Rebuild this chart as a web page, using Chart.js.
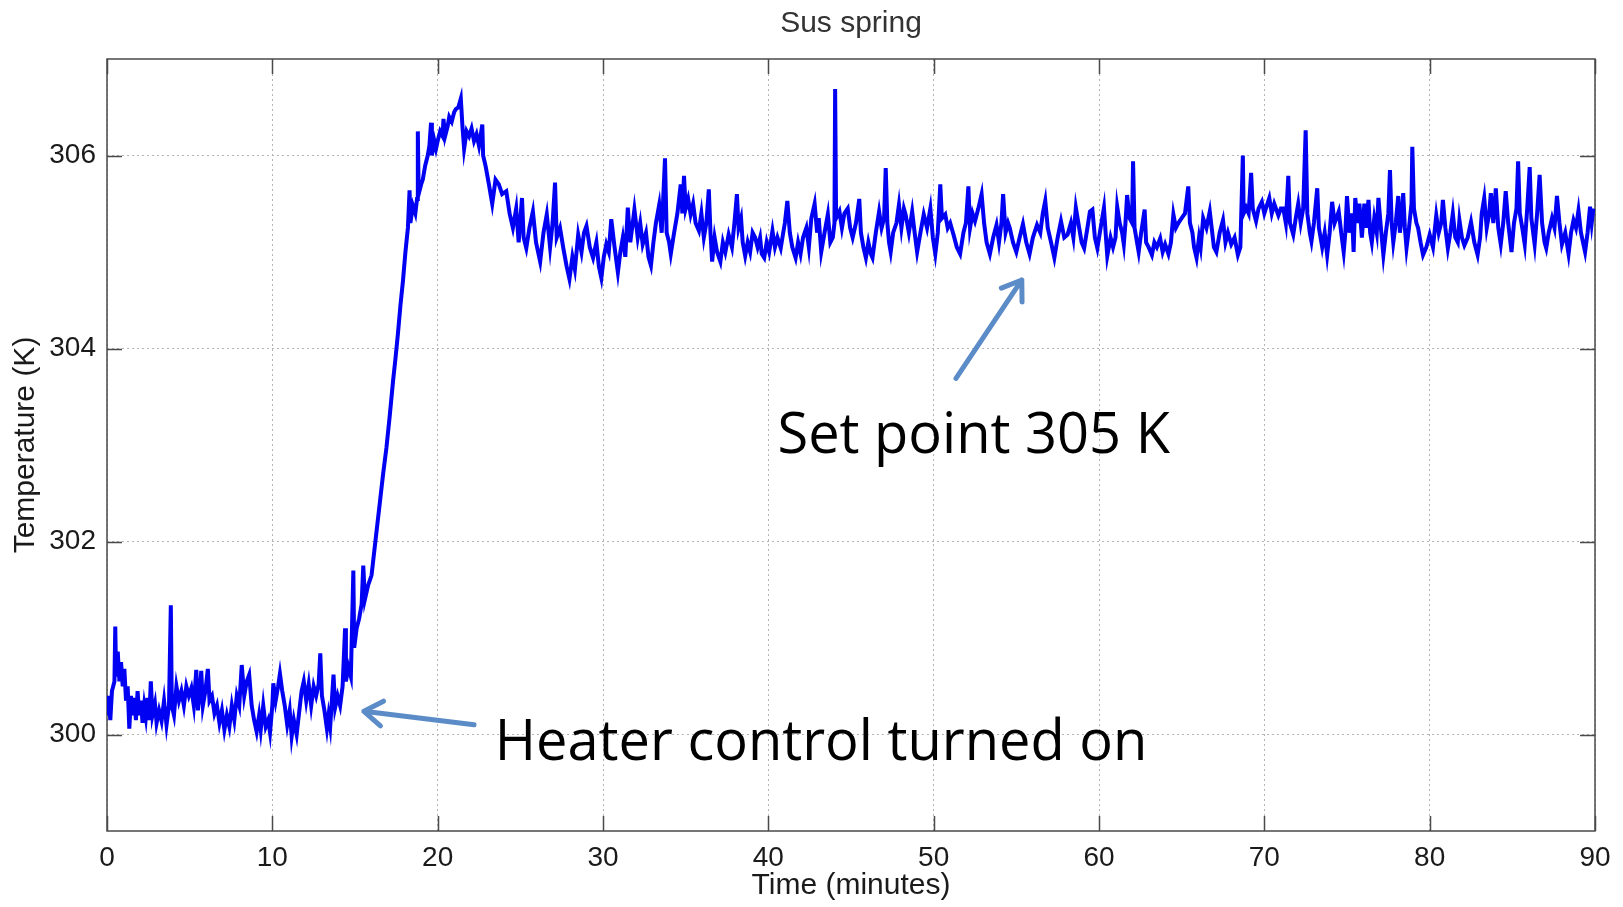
<!DOCTYPE html>
<html>
<head>
<meta charset="utf-8">
<title>Sus spring</title>
<script src="https://cdn.jsdelivr.net/npm/chart.js@4.4.0/dist/chart.umd.min.js"></script>
<style>
  html, body { margin: 0; padding: 0; background: #fff; }
  #wrap { width: 1623px; height: 907px; }
</style>
</head>
<body>
<div id="wrap"><canvas id="springChart" width="1623" height="907"></canvas></div>
<script>
// time axis (minutes) and temperature (K), 10 per row
const minutes = [
  0.0, 0.1, 0.2, 0.3, 0.45, 0.5, 0.55, 0.65, 0.75, 0.85,
  0.95, 1.05, 1.15, 1.25, 1.35, 1.45, 1.55, 1.65, 1.75, 1.85,
  1.95, 2.05, 2.15, 2.25, 2.35, 2.45, 2.55, 2.65, 2.75, 2.9,
  3.0, 3.15, 3.3, 3.45, 3.6, 3.75, 3.86, 3.92, 4.05, 4.2,
  4.35, 4.5, 4.65, 4.8, 4.95, 5.1, 5.25, 5.4, 5.5, 5.6,
  5.7, 5.8, 5.95, 6.1, 6.2, 6.35, 6.5, 6.65, 6.8, 6.95,
  7.1, 7.25, 7.4, 7.55, 7.7, 7.85, 8.0, 8.15, 8.3, 8.45,
  8.6, 8.75, 8.9, 9.05, 9.2, 9.3, 9.45, 9.6, 9.75, 9.86,
  10.0, 10.06, 10.2, 10.35, 10.46, 10.6, 10.75, 10.9, 11.05, 11.17,
  11.3, 11.47, 11.6, 11.77, 11.9, 12.05, 12.2, 12.35, 12.5, 12.65,
  12.8, 12.9, 13.0, 13.15, 13.3, 13.4, 13.5, 13.6, 13.7, 13.8,
  13.95, 14.1, 14.25, 14.4, 14.45, 14.6, 14.75, 14.9, 14.95, 15.1,
  15.25, 15.4, 15.5, 15.6, 15.8, 16.0, 16.1, 16.3, 16.5, 16.7,
  16.9, 17.1, 17.3, 17.45, 17.6, 17.75, 17.9, 18.05, 18.2, 18.3,
  18.35, 18.5, 18.65, 18.75, 18.8, 18.85, 19.0, 19.1, 19.25, 19.4,
  19.5, 19.6, 19.65, 19.8, 19.9, 20.0, 20.15, 20.3, 20.35, 20.45,
  20.6, 20.7, 20.85, 21.0, 21.1, 21.25, 21.4, 21.5, 21.6, 21.75,
  21.9, 22.05, 22.2, 22.35, 22.5, 22.7, 22.75, 22.9, 23.1, 23.3,
  23.5, 23.7, 23.9, 24.15, 24.35, 24.55, 24.75, 24.9, 25.1, 25.2,
  25.36, 25.55, 25.76, 25.95, 26.2, 26.4, 26.6, 26.8, 26.95, 27.1,
  27.2, 27.4, 27.6, 27.8, 27.97, 28.15, 28.3, 28.5, 28.7, 28.85,
  29.0, 29.2, 29.4, 29.6, 29.75, 29.9, 30.05, 30.2, 30.35, 30.5,
  30.7, 30.9, 31.05, 31.2, 31.35, 31.5, 31.65, 31.8, 31.9, 32.1,
  32.25, 32.4, 32.6, 32.75, 32.9, 33.05, 33.2, 33.4, 33.55, 33.75,
  33.85, 34.0, 34.1, 34.3, 34.5, 34.7, 34.8, 34.9, 35.0, 35.15,
  35.3, 35.45, 35.6, 35.8, 35.95, 36.1, 36.25, 36.4, 36.5, 36.6,
  36.75, 36.9, 37.1, 37.25, 37.4, 37.6, 37.8, 37.95, 38.1, 38.2,
  38.35, 38.45, 38.6, 38.75, 38.9, 39.05, 39.2, 39.35, 39.5, 39.6,
  39.75, 39.9, 40.05, 40.25, 40.4, 40.55, 40.75, 40.9, 41.0, 41.15,
  41.3, 41.45, 41.65, 41.8, 41.95, 42.1, 42.3, 42.45, 42.6, 42.8,
  42.95, 43.05, 43.2, 43.4, 43.6, 43.75, 43.9, 44.0, 44.04, 44.1,
  44.3, 44.45, 44.6, 44.8, 44.95, 45.1, 45.3, 45.5, 45.6, 45.75,
  45.9, 46.05, 46.2, 46.3, 46.5, 46.7, 46.85, 47.0, 47.1, 47.2,
  47.3, 47.4, 47.55, 47.75, 47.9, 48.05, 48.2, 48.3, 48.5, 48.7,
  48.85, 49.0, 49.2, 49.4, 49.6, 49.8, 49.95, 50.1, 50.25, 50.4,
  50.5, 50.7, 50.85, 51.0, 51.2, 51.4, 51.6, 51.8, 51.95, 52.1,
  52.2, 52.35, 52.5, 52.7, 52.9, 53.05, 53.2, 53.4, 53.6, 53.8,
  53.95, 54.1, 54.2, 54.35, 54.5, 54.6, 54.8, 55.0, 55.2, 55.4,
  55.6, 55.8, 56.0, 56.25, 56.45, 56.6, 56.75, 56.9, 57.1, 57.3,
  57.5, 57.7, 57.9, 58.1, 58.3, 58.45, 58.6, 58.8, 58.95, 59.1,
  59.3, 59.45, 59.6, 59.75, 59.9, 60.05, 60.3, 60.4, 60.5, 60.7,
  60.85, 61.0, 61.1, 61.25, 61.4, 61.5, 61.6, 61.7, 61.85, 62.0,
  62.06, 62.15, 62.3, 62.4, 62.55, 62.76, 62.85, 63.0, 63.2, 63.35,
  63.5, 63.7, 63.85, 64.0, 64.2, 64.35, 64.5, 64.65, 64.8, 65.0,
  65.2, 65.4, 65.5, 65.65, 65.75, 65.9, 66.05, 66.15, 66.3, 66.5,
  66.7, 66.85, 66.95, 67.1, 67.3, 67.5, 67.65, 67.8, 68.0, 68.2,
  68.4, 68.55, 68.7, 68.75, 68.9, 69.05, 69.2, 69.3, 69.5, 69.65,
  69.85, 70.0, 70.15, 70.3, 70.45, 70.6, 70.85, 71.0, 71.15, 71.3,
  71.45, 71.55, 71.75, 71.9, 72.05, 72.2, 72.35, 72.5, 72.6, 72.75,
  72.85, 73.0, 73.2, 73.3, 73.5, 73.65, 73.8, 73.95, 74.1, 74.25,
  74.5, 74.65, 74.8, 74.9, 75.0, 75.15, 75.3, 75.4, 75.5, 75.65,
  75.75, 75.9, 76.05, 76.15, 76.3, 76.4, 76.5, 76.65, 76.8, 76.9,
  77.05, 77.2, 77.35, 77.5, 77.6, 77.7, 77.8, 77.95, 78.1, 78.2,
  78.3, 78.4, 78.5, 78.6, 78.75, 78.9, 78.95, 79.05, 79.2, 79.3,
  79.45, 79.6, 79.8, 80.0, 80.2, 80.4, 80.55, 80.7, 80.8, 80.95,
  81.1, 81.25, 81.4, 81.55, 81.7, 81.8, 81.95, 82.1, 82.3, 82.5,
  82.7, 82.9, 83.05, 83.15, 83.3, 83.45, 83.6, 83.7, 83.85, 84.0,
  84.15, 84.3, 84.45, 84.6, 84.75, 84.95, 85.1, 85.25, 85.35, 85.45,
  85.6, 85.75, 85.9, 86.05, 86.15, 86.35, 86.5, 86.65, 86.8, 86.95,
  87.05, 87.2, 87.4, 87.55, 87.7, 87.85, 88.0, 88.2, 88.4, 88.55,
  88.7, 88.85, 89.0, 89.15, 89.3, 89.4, 89.55, 89.7, 89.8, 89.9
];

const kelvin = [
  300.20, 300.40, 300.15, 300.45, 300.55, 301.12, 300.60, 300.86, 300.55, 300.75,
  300.50, 300.68, 300.35, 300.50, 300.06, 300.40, 300.20, 300.38, 300.15, 300.45,
  300.20, 300.35, 300.12, 300.30, 300.18, 300.38, 300.15, 300.55, 300.20, 300.32,
  300.12, 300.25, 300.14, 300.35, 300.10, 300.30, 301.34, 300.30, 300.20, 300.50,
  300.35, 300.45, 300.30, 300.50, 300.40, 300.48, 300.30, 300.67, 300.25, 300.40,
  300.66, 300.30, 300.45, 300.68, 300.35, 300.40, 300.22, 300.30, 300.12, 300.25,
  300.05, 300.20, 300.08, 300.30, 300.15, 300.40, 300.30, 300.72, 300.40, 300.55,
  300.62, 300.30, 300.15, 300.03, 300.20, 300.05, 300.30, 300.08, 300.15, 300.02,
  300.30, 300.53, 300.35, 300.50, 300.63, 300.45, 300.30, 300.10, 300.25, 299.98,
  300.15, 300.00, 300.20, 300.45, 300.55, 300.35, 300.52, 300.30, 300.50, 300.40,
  300.52, 300.84, 300.40, 300.25, 300.06, 300.20, 300.08, 300.35, 300.62, 300.28,
  300.40, 300.30, 300.50, 301.10, 300.55, 300.70, 300.60, 301.70, 300.90, 301.10,
  301.20, 301.35, 301.75, 301.40, 301.55, 301.65, 301.80, 302.10, 302.40, 302.70,
  302.97, 303.30, 303.66, 303.90, 304.16, 304.45, 304.70, 305.00, 305.25, 305.64,
  305.30, 305.48, 305.40, 305.55, 306.25, 305.60, 305.70, 305.75, 305.90, 306.00,
  306.10, 306.34, 306.00, 306.15, 306.07, 306.15, 306.25, 306.20, 306.38, 306.20,
  306.30, 306.40, 306.35, 306.45, 306.48, 306.50, 306.59, 306.30, 306.07, 306.25,
  306.20, 306.28, 306.15, 306.22, 306.10, 306.32, 306.00, 305.89, 305.70, 305.50,
  305.75, 305.70, 305.60, 305.63, 305.40, 305.25, 305.45, 305.10, 305.56, 305.15,
  305.04, 305.25, 305.42, 305.10, 304.90, 305.20, 305.39, 305.05, 305.30, 305.72,
  305.15, 305.25, 305.04, 304.85, 304.72, 304.95, 304.82, 305.18, 305.00, 305.20,
  305.27, 305.05, 304.94, 305.10, 304.85, 304.73, 304.95, 305.08, 305.00, 305.34,
  305.05, 304.79, 305.00, 305.15, 304.95, 305.46, 305.10, 305.30, 305.44, 305.15,
  305.30, 305.08, 305.20, 304.95, 304.86, 305.10, 305.30, 305.49, 305.20, 305.97,
  305.20, 305.10, 304.98, 305.20, 305.40, 305.70, 305.40, 305.79, 305.45, 305.55,
  305.39, 305.50, 305.30, 305.22, 305.40, 305.15, 305.30, 305.65, 305.20, 304.90,
  305.15, 305.00, 304.90, 305.10, 305.00, 305.18, 305.05, 305.30, 305.60, 305.25,
  305.35, 305.10, 304.96, 305.10, 305.00, 305.20, 305.15, 305.05, 305.15, 304.98,
  304.94, 305.10, 305.00, 305.22, 305.05, 305.15, 305.04, 305.20, 305.30, 305.53,
  305.20, 305.05, 304.94, 305.10, 304.98, 305.15, 305.25, 305.05, 305.35, 305.50,
  305.20, 305.35, 305.00, 305.20, 305.39, 305.10, 305.15, 305.30, 306.69, 305.35,
  305.42, 305.25, 305.40, 305.45, 305.25, 305.15, 305.30, 305.55, 305.20, 305.05,
  304.94, 305.10, 304.98, 304.94, 305.20, 305.42, 305.25, 305.35, 305.87, 305.30,
  305.10, 305.00, 305.20, 305.30, 305.49, 305.25, 305.45, 305.39, 305.20, 305.42,
  305.20, 305.00, 305.20, 305.39, 305.25, 305.45, 305.15, 304.98, 305.20, 305.70,
  305.35, 305.39, 305.25, 305.30, 305.18, 305.05, 304.98, 305.20, 305.30, 305.68,
  305.25, 305.40, 305.32, 305.45, 305.60, 305.30, 305.10, 304.98, 305.15, 305.28,
  305.10, 305.30, 305.60, 305.20, 305.30, 305.25, 305.10, 305.00, 305.15, 305.29,
  305.10, 304.98, 305.15, 305.28, 305.20, 305.40, 305.53, 305.25, 305.10, 304.94,
  305.15, 305.32, 305.15, 305.18, 305.30, 305.15, 305.46, 305.25, 305.10, 305.04,
  305.25, 305.42, 305.44, 305.15, 305.04, 305.20, 305.46, 305.20, 304.96, 305.15,
  305.05, 305.15, 305.47, 305.30, 305.20, 305.08, 305.30, 305.59, 305.35, 305.30,
  305.94, 305.25, 305.10, 305.00, 305.20, 305.44, 305.10, 305.05, 304.97, 305.10,
  305.05, 305.14, 305.00, 305.08, 304.98, 305.10, 305.39, 305.25, 305.30, 305.35,
  305.40, 305.68, 305.30, 305.20, 305.05, 304.94, 305.15, 305.05, 305.35, 305.25,
  305.42, 305.20, 305.05, 305.00, 305.20, 305.33, 305.10, 305.20, 305.08, 305.15,
  304.97, 305.05, 306.00, 305.40, 305.46, 305.40, 305.82, 305.45, 305.32, 305.45,
  305.52, 305.40, 305.48, 305.56, 305.40, 305.50, 305.38, 305.45, 305.45, 305.30,
  305.79, 305.30, 305.18, 305.35, 305.50, 305.30, 305.45, 306.26, 305.40, 305.20,
  305.11, 305.30, 305.66, 305.25, 305.05, 305.20, 304.97, 305.20, 305.52, 305.30,
  305.42, 305.20, 305.00, 305.20, 305.58, 305.20, 305.40, 305.00, 305.56, 305.30,
  305.50, 305.15, 305.50, 305.25, 305.54, 305.20, 305.10, 305.35, 305.20, 305.56,
  305.25, 304.97, 305.20, 305.40, 305.85, 305.30, 305.10, 305.30, 305.58, 305.20,
  305.35, 305.61, 305.25, 305.04, 305.25, 305.50, 306.09, 305.45, 305.30, 305.25,
  305.10, 304.97, 305.05, 305.18, 305.05, 305.38, 305.20, 305.30, 305.54, 305.25,
  305.04, 305.20, 305.40, 305.15, 305.10, 305.33, 305.15, 305.07, 305.15, 305.31,
  305.10, 304.97, 305.15, 305.40, 305.56, 305.25, 305.40, 305.61, 305.30, 305.66,
  305.25, 305.08, 305.30, 305.63, 305.30, 305.00, 305.30, 305.45, 305.94, 305.40,
  305.25, 305.08, 305.45, 305.88, 305.35, 305.08, 305.40, 305.80, 305.30, 305.10,
  305.04, 305.20, 305.35, 305.25, 305.58, 305.30, 305.08, 305.20, 304.98, 305.20,
  305.33, 305.25, 305.43, 305.20, 305.08, 305.00, 305.20, 305.47, 305.30, 305.45
];

const xTickValues = [0, 10, 20, 30, 40, 50, 60, 70, 80, 90];
const yTickValues = [300, 302, 304, 306];

// callouts: text anchored at [minutes, kelvin] (left edge, baseline)
const noteTexts = ['Set point 305 K', 'Heater control turned on'];
const noteAnchors = [[40.55, 302.92], [23.45, 299.74]];
// arrows: [tail minutes, tail K, tip minutes, tip K]
const arrowLines = [[51.35, 303.69, 55.33, 304.71], [22.2, 300.10, 15.54, 300.24]];

if (minutes.length !== kelvin.length) {
  console.error('minutes/kelvin length mismatch', minutes.length, kelvin.length);
}

const axisFont = '"Liberation Sans", Arial, Helvetica, sans-serif';
const noteFont = '"Open Sans", "Noto Sans", sans-serif';

const drawArrow = (ctx, x0, y0, x1, y1) => {
  const ang = Math.atan2(y1 - y0, x1 - x0);
  const head = 22;
  ctx.beginPath();
  ctx.moveTo(x0, y0);
  ctx.lineTo(x1, y1);
  ctx.moveTo(x1 - head * Math.cos(ang - 0.6), y1 - head * Math.sin(ang - 0.6));
  ctx.lineTo(x1, y1);
  ctx.lineTo(x1 - head * Math.cos(ang + 0.6), y1 - head * Math.sin(ang + 0.6));
  ctx.stroke();
};

const matlabFrame = {
  id: 'matlabFrame',
  beforeDatasetsDraw(chart) {
    const { ctx, chartArea: a, scales: { x, y } } = chart;
    ctx.save();
    ctx.strokeStyle = '#4a4a4a';
    ctx.lineWidth = 1.5;
    ctx.strokeRect(a.left, a.top, a.right - a.left, a.bottom - a.top);
    ctx.beginPath();
    x.ticks.forEach(t => {
      const px = Math.round(x.getPixelForValue(t.value)) + 0.5;
      ctx.moveTo(px, a.bottom);
      ctx.lineTo(px, a.bottom - 15);
      ctx.moveTo(px, a.top);
      ctx.lineTo(px, a.top + 15);
    });
    y.ticks.forEach(t => {
      const py = Math.round(y.getPixelForValue(t.value)) + 0.5;
      ctx.moveTo(a.left, py);
      ctx.lineTo(a.left + 15, py);
      ctx.moveTo(a.right, py);
      ctx.lineTo(a.right - 15, py);
    });
    ctx.stroke();
    ctx.restore();
  },
  afterDraw(chart) {
    const { ctx, chartArea: a, scales: { x, y } } = chart;
    ctx.save();
    // title
    ctx.fillStyle = '#333';
    ctx.font = '30px ' + axisFont;
    ctx.textAlign = 'center';
    ctx.textBaseline = 'middle';
    ctx.fillText('Sus spring', (a.left + a.right) / 2, 24);

    // arrows
    ctx.strokeStyle = '#5b8cc8';
    ctx.lineWidth = 5;
    ctx.lineCap = 'round';
    ctx.lineJoin = 'round';
    arrowLines.forEach(([t0, k0, t1, k1]) => {
      drawArrow(ctx, x.getPixelForValue(t0), y.getPixelForValue(k0),
        x.getPixelForValue(t1), y.getPixelForValue(k1));
    });

    // callout text
    ctx.fillStyle = '#000';
    ctx.font = '56px ' + noteFont;
    ctx.textAlign = 'left';
    ctx.textBaseline = 'alphabetic';
    noteTexts.forEach((txt, i) => {
      const [t, k] = noteAnchors[i];
      ctx.fillText(txt, x.getPixelForValue(t), y.getPixelForValue(k));
    });
    ctx.restore();
  }
};

const springChart = document.getElementById('springChart');
if (springChart) {
  new Chart(springChart, {
    type: 'line',
    data: {
      datasets: [
        {
          label: 'Sus spring',
          data: minutes.map((m, i) => ({ x: m, y: kelvin[i] })),
          borderColor: '#0000f2',
          borderWidth: 4,
          pointRadius: 0,
          tension: 0,
          fill: false,
        },
      ],
    },
    options: {
      responsive: false,
      animation: false,
      events: [],
      layout: { padding: { top: 59, right: 28, bottom: 0, left: 0 } },
      plugins: {
        legend: { display: false },
        tooltip: { enabled: false },
        title: { display: false },
      },
      scales: {
        x: {
          type: 'linear',
          min: 0,
          max: 90,
          afterBuildTicks: scale => { scale.ticks = xTickValues.map(value => ({ value })); },
          afterFit: scale => { scale.height = 76; },
          grid: { color: '#b4b4b4', lineWidth: 1, drawTicks: false },
          border: { display: false, dash: [2, 3] },
          ticks: {
            autoSkip: false,
            maxRotation: 0,
            padding: 10,
            color: '#1a1a1a',
            font: { family: axisFont, size: 28 },
          },
          title: {
            display: true,
            text: 'Time (minutes)',
            color: '#1a1a1a',
            font: { family: axisFont, size: 30 },
            padding: { top: 0, bottom: 3 },
          },
        },
        y: {
          type: 'linear',
          min: 299,
          max: 307,
          afterBuildTicks: scale => { scale.ticks = yTickValues.map(value => ({ value })); },
          afterFit: scale => { scale.width = 107; },
          grid: { color: '#b4b4b4', lineWidth: 1, drawTicks: false },
          border: { display: false, dash: [2, 3] },
          ticks: {
            autoSkip: false,
            padding: 11,
            color: '#1a1a1a',
            font: { family: axisFont, size: 28 },
          },
          title: {
            display: true,
            text: 'Temperature (K)',
            color: '#1a1a1a',
            font: { family: axisFont, size: 30 },
            padding: { top: 8, bottom: 0 },
          },
        },
      },
    },
    plugins: [matlabFrame],
  });
}
</script>
</body>
</html>
